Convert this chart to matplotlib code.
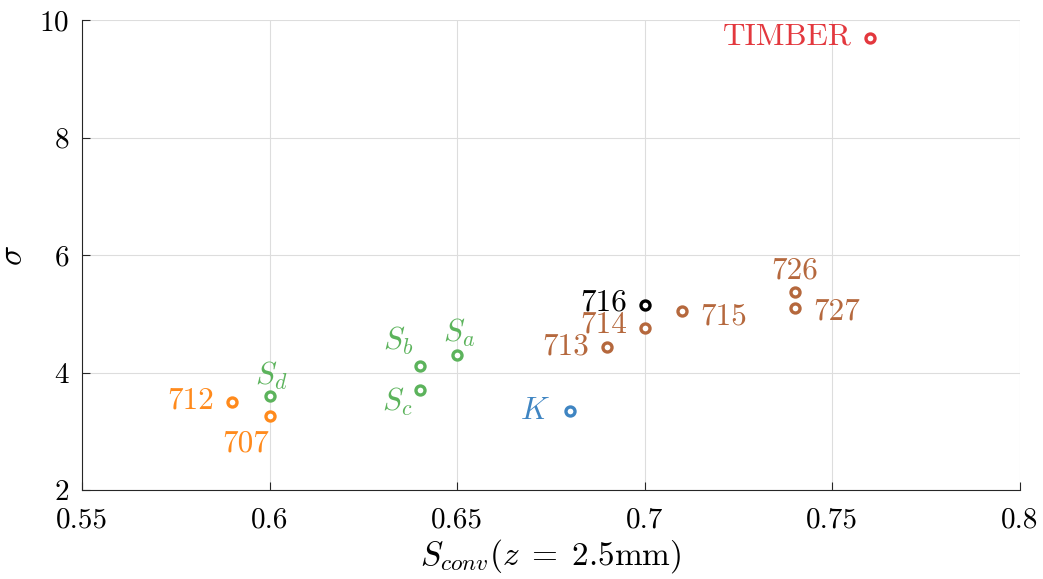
import matplotlib
matplotlib.use("Agg")
import matplotlib.pyplot as plt

plt.rcParams.update({
    "font.family": "serif",
    "font.serif": ["cmr10"],
    "mathtext.fontset": "cm",
    "axes.formatter.use_mathtext": True,
    "font.size": 21,
})

# data
names = ["TIMBER", "726", "727", "716", "715", "714", "713",
         "$S_a$", "$S_b$", "$S_c$", "$S_d$", "$K$", "712", "707"]
s_conv = [0.76, 0.74, 0.74, 0.70, 0.71, 0.70, 0.69,
          0.65, 0.64, 0.64, 0.60, 0.68, 0.59, 0.60]
sigma = [9.69, 5.37, 5.10, 5.15, 5.05, 4.76, 4.43,
         4.30, 4.11, 3.70, 3.60, 3.34, 3.50, 3.26]
groups = ["red", "brown", "brown", "black", "brown", "brown", "brown",
          "green", "green", "green", "green", "blue", "orange", "orange"]

palette = {"red": "#e3383e", "brown": "#b5683d", "black": "#000000",
           "green": "#5cb35c", "blue": "#3f85c2", "orange": "#ff8a1c"}

# label offsets in pixels (dx, dy) and alignment
offsets = {
    "TIMBER": (-18, 2, "right"),
    "726": (0, 21, "center"),
    "727": (18, -4, "left"),
    "716": (-18, 2, "right"),
    "715": (18, -6, "left"),
    "714": (-18, 3, "right"),
    "713": (-18, 1, "right"),
    "$S_a$": (2, 22, "center"),
    "$S_b$": (-22, 25, "center"),
    "$S_c$": (-22, -12, "center"),
    "$S_d$": (2, 20, "center"),
    "$K$": (-20, 0, "right"),
    "712": (-18, 1, "right"),
    "707": (-24, -28, "center"),
}

fig = plt.figure(figsize=(10.43, 5.79), dpi=100)
ax = fig.add_axes([0.0786, 0.1537, 0.8993, 0.8117])

for n, xv, yv, g in zip(names, s_conv, sigma, groups):
    c = palette[g]
    ax.plot(xv, yv, "o", ms=6.5, mfc="white", mec=c, mew=2.4, zorder=3)
    dx, dy, ha = offsets[n]
    ax.annotate(n, (xv, yv), xytext=(dx, dy), textcoords="offset pixels",
                ha=ha, va="center", color=c, fontsize=22.5)

ax.set_xlim(0.55, 0.8)
ax.set_ylim(2, 10)
ax.set_xticks([0.55, 0.6, 0.65, 0.7, 0.75, 0.8])
ax.set_xticklabels(["0.55", "0.6", "0.65", "0.7", "0.75", "0.8"])
ax.set_yticks([2, 4, 6, 8, 10])
ax.grid(True, color="#dddddd", lw=0.8)
ax.set_axisbelow(True)
for s in ["top", "right"]:
    ax.spines[s].set_visible(False)
for s in ["left", "bottom"]:
    ax.spines[s].set_color("#262626")
ax.tick_params(direction="in", length=6, color="#262626", labelsize=21, pad=9)
ax.tick_params(axis="x", pad=12)

ax.set_xlabel(r"$S_{conv}(z\;=\;2.5\mathrm{mm})$", fontsize=24, labelpad=3)
ax.set_ylabel(r"$\sigma$", fontsize=24, labelpad=8)

fig.savefig("out.png", dpi=100)
